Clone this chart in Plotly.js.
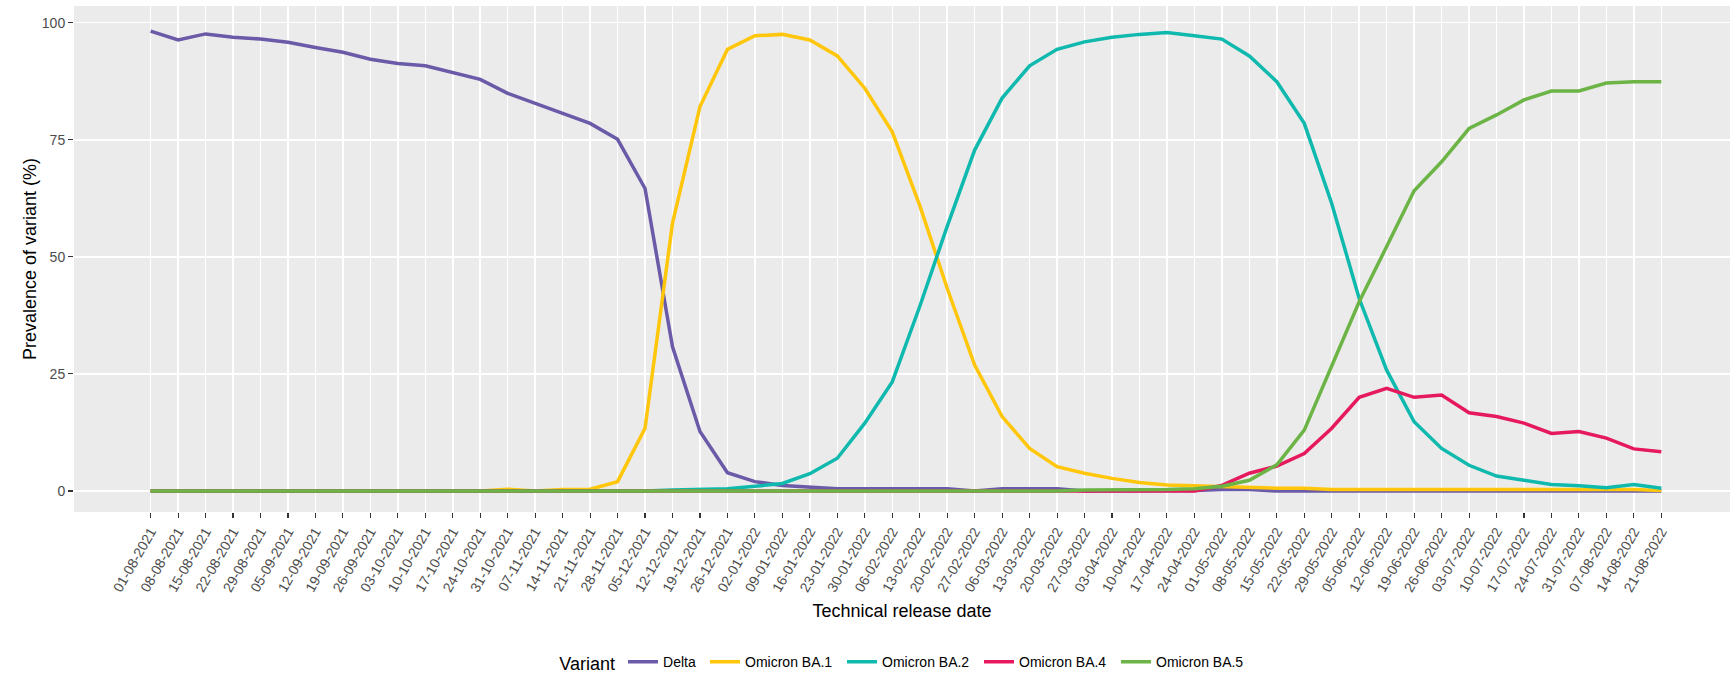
<!DOCTYPE html>
<html><head><meta charset="utf-8">
<script src="https://cdn.plot.ly/plotly-3.0.1.min.js"></script>
<style>html,body{margin:0;padding:0;background:#fff}#chart{width:1730px;height:675px}</style>
</head><body><div id="chart"></div>
<script>
const releaseDates = ["01-08-2021","08-08-2021","15-08-2021","22-08-2021","29-08-2021","05-09-2021","12-09-2021","19-09-2021","26-09-2021","03-10-2021","10-10-2021","17-10-2021","24-10-2021","31-10-2021","07-11-2021","14-11-2021","21-11-2021","28-11-2021","05-12-2021","12-12-2021","19-12-2021","26-12-2021","02-01-2022","09-01-2022","16-01-2022","23-01-2022","30-01-2022","06-02-2022","13-02-2022","20-02-2022","27-02-2022","06-03-2022","13-03-2022","20-03-2022","27-03-2022","03-04-2022","10-04-2022","17-04-2022","24-04-2022","01-05-2022","08-05-2022","15-05-2022","22-05-2022","29-05-2022","05-06-2022","12-06-2022","19-06-2022","26-06-2022","03-07-2022","10-07-2022","17-07-2022","24-07-2022","31-07-2022","07-08-2022","14-08-2022","21-08-2022"];

const delta = [98.2,96.3,97.6,96.9,96.5,95.8,94.7,93.7,92.2,91.3,90.8,89.3,87.9,84.9,82.8,80.5,78.5,75.1,64.6,30.8,12.7,3.9,2.0,1.2,0.8,0.5,0.5,0.5,0.5,0.5,0,0.5,0.5,0.5,0,0,0,0,0.1,0.3,0.3,0,0,0,0,0,0,0,0,0,0,0,0,0,0,0];
const ba1 = [0,0,0,0,0,0,0,0,0,0,0,0,0,0.4,0,0.3,0.4,2.0,13.4,57.2,82.1,94.3,97.2,97.5,96.3,92.9,86.0,76.7,61.0,43.3,26.9,15.9,9.1,5.2,3.8,2.7,1.8,1.3,1.1,0.9,0.7,0.6,0.6,0.3,0.3,0.3,0.3,0.3,0.3,0.3,0.3,0.3,0.3,0.3,0.3,0.1];
const ba2 = [0,0,0,0,0,0,0,0,0,0,0,0,0,0,0,0,0,0,0,0.2,0.4,0.5,1.0,1.6,3.7,7.0,14.5,23.3,39.4,56.5,72.8,83.9,90.8,94.3,95.9,96.9,97.5,97.9,97.2,96.5,92.9,87.4,78.5,61.4,41.1,25.8,14.8,9.1,5.5,3.2,2.3,1.4,1.1,0.7,1.4,0.6];
const ba4 = [0,0,0,0,0,0,0,0,0,0,0,0,0,0,0,0,0,0,0,0,0,0,0,0,0,0,0,0,0,0,0,0,0,0,0,0,0,0,0,1.2,3.8,5.3,8.0,13.4,20.0,21.9,20.0,20.5,16.7,15.9,14.5,12.3,12.7,11.3,9.0,8.4];
const ba5 = [0,0,0,0,0,0,0,0,0,0,0,0,0,0,0,0,0,0,0,0,0,0,0,0,0,0,0,0,0,0,0,0,0,0,0.2,0.2,0.2,0.3,0.5,1.0,2.3,5.6,13.0,26.5,40.4,52.2,64.1,70.3,77.4,80.3,83.5,85.4,85.4,87.1,87.4,87.4];

const seriesNames = ["Delta","Omicron BA.1","Omicron BA.2","Omicron BA.4","Omicron BA.5"];
const seriesValues = [delta, ba1, ba2, ba4, ba5];
const seriesColors = ["#6A5AA8","#FFC60B","#10B9AE","#E5195C","#6BB445"];
const legendWidths = [37, 92, 92, 92, 92];
const yTicks = [0,25,50,75,100];

const traces = seriesNames.map((n,i) => ({
  type:'scatter', mode:'lines', name:n, x:releaseDates, y:seriesValues[i],
  line:{color:seriesColors[i], width:3.5}, legendwidth:legendWidths[i]
}));

const layout = {
  width:1730, height:675,
  margin:{l:74, r:0, t:6, b:163, pad:0, autoexpand:false},
  paper_bgcolor:'#FFFFFF', plot_bgcolor:'#EBEBEB',
  font:{family:'"Liberation Sans", Arial, sans-serif', color:'#4D4D4D', size:14},
  showlegend:true,
  xaxis:{
    type:'category', range:[-2.79,57.5], tickangle:-60,
    tickfont:{size:14,color:'#4D4D4D'},
    ticks:'outside', ticklen:5, tickwidth:1.1, tickcolor:'#333333',
    showgrid:true, gridcolor:'#FFFFFF', gridwidth:1.5,
    zeroline:false, showline:false, automargin:false,
    title:{text:'Technical release date', font:{size:18,color:'#000000'}, standoff:10}
  },
  yaxis:{
    range:[-4.48,103.56], tickvals:yTicks, ticktext:yTicks.map(String),
    tickfont:{size:14,color:'#4D4D4D'},
    ticks:'outside', ticklen:5, tickwidth:1.1, tickcolor:'#333333',
    showgrid:true, gridcolor:'#FFFFFF', gridwidth:1.5,
    zeroline:false, showline:false, automargin:false,
    title:{text:'Prevalence of variant (%)', font:{size:18,color:'#000000'}, standoff:0}
  },
  legend:{
    orientation:'h', xref:'paper', x:0.502, xanchor:'center',
    yref:'container', y:0.0175, yanchor:'middle',
    font:{size:14,color:'#000000'},
    title:{text:'Variant', font:{size:18,color:'#000000'}, side:'left'},
    bgcolor:'rgba(0,0,0,0)'
  }
};

Plotly.newPlot('chart', traces, layout, {displayModeBar:false, staticPlot:true});
</script>
</body></html>
